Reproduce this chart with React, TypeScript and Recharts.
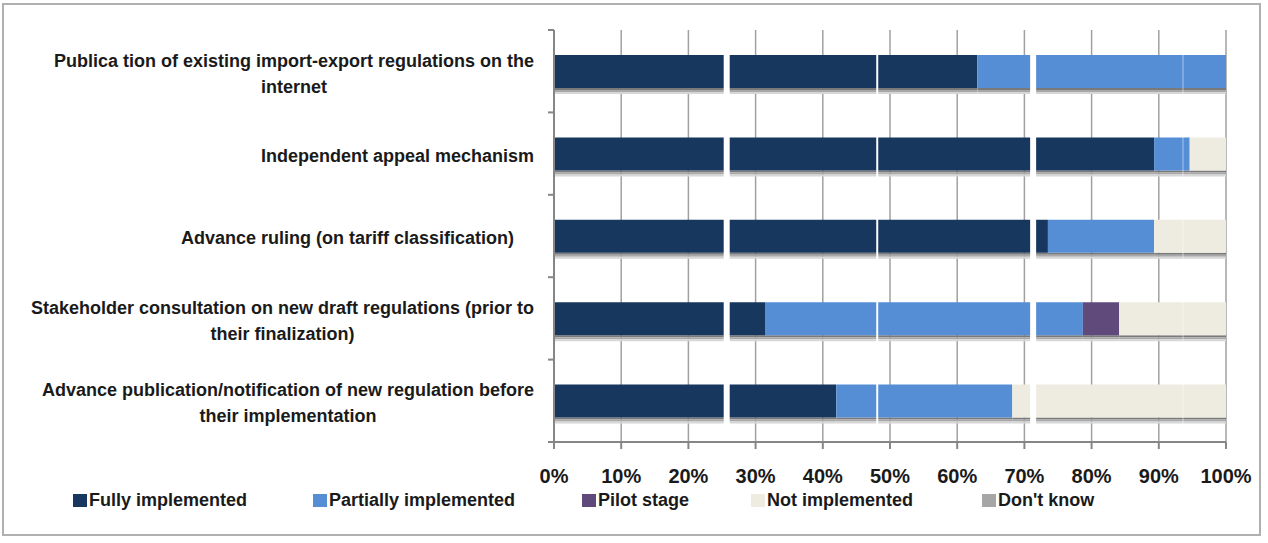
import React from "react";
import {
  BarChart,
  Bar,
  XAxis,
  YAxis,
  CartesianGrid,
  Legend,
  ReferenceLine,
  Rectangle,
} from "recharts";

// Survey categories (line breaks as in the original label wrapping)
const CATEGORIES = [
  "Publica tion of existing import-export regulations on the\ninternet",
  "Independent appeal mechanism",
  "Advance ruling (on tariff classification)\u00a0\u00a0\u00a0\u00a0",
  "Stakeholder consultation on new draft regulations (prior to\ntheir finalization)",
  "Advance publication/notification of new regulation before\ntheir implementation",
];

// Shares in percent
const FULLY = [63, 89.3, 73.5, 31.4, 42];
const PARTIAL = [37, 5.3, 15.8, 47.3, 26.2];
const PILOT = [0, 0, 0, 5.4, 0];
const NOT_IMPL = [0, 5.4, 10.7, 15.9, 31.8];
const DONT_KNOW = [0, 0, 0, 0, 0];

const X_TICKS = [0, 10, 20, 30, 40, 50, 60, 70, 80, 90, 100];

// white scan seams that cut through the bars in the original
const SEAMS = [25.7, 48.1, 71.3, 93.6];

const SERIES = [
  { key: "fully", name: "Fully implemented", color: "#17375E" },
  { key: "partial", name: "Partially implemented", color: "#558ED5" },
  { key: "pilot", name: "Pilot stage", color: "#604A7B" },
  { key: "notImpl", name: "Not implemented", color: "#EEECE1" },
  { key: "dontKnow", name: "Don't know", color: "#A6A6A6" },
];

// legend slot widths, matching the spacing in the original
const LEGEND_SLOTS = [240, 269, 169, 231, 140];

const data = CATEGORIES.map((name, i) => ({
  name,
  fully: FULLY[i],
  partial: PARTIAL[i],
  pilot: PILOT[i],
  notImpl: NOT_IMPL[i],
  dontKnow: DONT_KNOW[i],
}));

const FONT = "'Liberation Sans', Arial, sans-serif";
const AXIS_GRAY = "#868686";

let measureCtx: CanvasRenderingContext2D | null = null;
function textWidth(s: string): number {
  if (!measureCtx) {
    measureCtx = document.createElement("canvas").getContext("2d");
  }
  if (!measureCtx) return s.length * 9;
  measureCtx.font = `bold 18px ${FONT}`;
  return measureCtx.measureText(s).width;
}

function CategoryTick(props: any) {
  const { x, y, payload, index } = props;
  const lines: string[] = String(payload.value).split("\n");
  const blockWidth = Math.max(...lines.map(textWidth));
  const cx = x - blockWidth / 2;
  const lineH = 26;
  const top = y + 2 - ((lines.length - 1) * lineH) / 2;
  const half = 41.2;
  return (
    <g>
      <line x1={x + 14} x2={x + 20} y1={y - half} y2={y - half} stroke={AXIS_GRAY} strokeWidth={2} />
      {index === CATEGORIES.length - 1 && (
        <line x1={x + 14} x2={x + 20} y1={y + half} y2={y + half} stroke={AXIS_GRAY} strokeWidth={2} />
      )}
      <text
        textAnchor="middle"
        fill="#1a1a1a"
        fontFamily={FONT}
        fontWeight="bold"
        fontSize={18}
      >
        {lines.map((ln, i) => (
          <tspan key={i} x={cx} y={top + i * lineH} dy="0.35em">
            {ln}
          </tspan>
        ))}
      </text>
    </g>
  );
}

// bar segment with a soft gray shadow underneath, like the Excel original
function ShadowBar(props: any) {
  const { x, y, width, height, fill } = props;
  if (!width || width <= 0) return <g />;
  return (
    <g>
      <Rectangle x={x} y={y + height} width={width} height={2} fill="#7a7a7a" />
      <Rectangle x={x} y={y + height + 2} width={width} height={2} fill="#a8a8a8" />
      <Rectangle x={x} y={y + height + 4} width={width} height={2} fill="#d6d6d6" />
      <Rectangle x={x} y={y} width={width} height={height} fill={fill} />
    </g>
  );
}

function LegendContent() {
  return (
    <div
      style={{
        display: "flex",
        alignItems: "center",
        height: 30,
        fontFamily: FONT,
        fontWeight: "bold",
        fontSize: 18,
        color: "#1a1a1a",
        whiteSpace: "nowrap",
      }}
    >
      {SERIES.map((s, i) => (
        <div key={s.key} style={{ display: "flex", alignItems: "center", width: LEGEND_SLOTS[i] }}>
          <span
            style={{
              display: "inline-block",
              width: 14,
              height: 13,
              background: s.color,
              marginRight: 2,
            }}
          />
          <span>{s.name}</span>
        </div>
      ))}
    </div>
  );
}

export default function App() {
  return (
    <div style={{ position: "absolute", left: 0, top: 0, width: 1268, height: 543, background: "#fff" }}>
      <div
        style={{
          position: "absolute",
          left: 2,
          top: 3,
          width: 1259,
          height: 533,
          border: "2px solid #b0b0b0",
          boxSizing: "border-box",
          pointerEvents: "none",
        }}
      />
      <BarChart
        width={1268}
        height={543}
        data={data}
        layout="vertical"
        margin={{ top: 30, right: 42, bottom: 31, left: 0 }}
      >
        <CartesianGrid horizontal={false} stroke="#a0a0a0" strokeWidth={1.5} />
        <XAxis
          type="number"
          domain={[0, 100]}
          ticks={X_TICKS}
          tickFormatter={(v) => `${v}%`}
          height={40}
          axisLine={{ stroke: AXIS_GRAY, strokeWidth: 2 }}
          tickLine={{ stroke: AXIS_GRAY, strokeWidth: 2 }}
          tickSize={7}
          tickMargin={20}
          tick={{ fill: "#1a1a1a", fontSize: 20, fontWeight: "bold", fontFamily: FONT }}
        />
        <YAxis
          type="category"
          dataKey="name"
          width={554}
          axisLine={{ stroke: AXIS_GRAY, strokeWidth: 2 }}
          tickLine={false}
          tickSize={0}
          tickMargin={20}
          interval={0}
          tick={<CategoryTick />}
        />
        {SERIES.map((s) => (
          <Bar
            key={s.key}
            dataKey={s.key}
            name={s.name}
            stackId="a"
            fill={s.color}
            barSize={33}
            shape={(p: any) => <ShadowBar {...p} />}
            isAnimationActive={false}
          />
        ))}
        {SEAMS.map((v, i) => (
          <ReferenceLine
            key={v}
            x={v}
            stroke="#ffffff"
            strokeWidth={i === 3 ? 1 : i === 1 ? 2 : 6}
            strokeOpacity={i === 3 ? 0.5 : 1}
          />
        ))}
        <Legend
          verticalAlign="bottom"
          content={<LegendContent />}
          wrapperStyle={{ left: 73, bottom: 28, width: "auto" }}
        />
      </BarChart>
    </div>
  );
}
